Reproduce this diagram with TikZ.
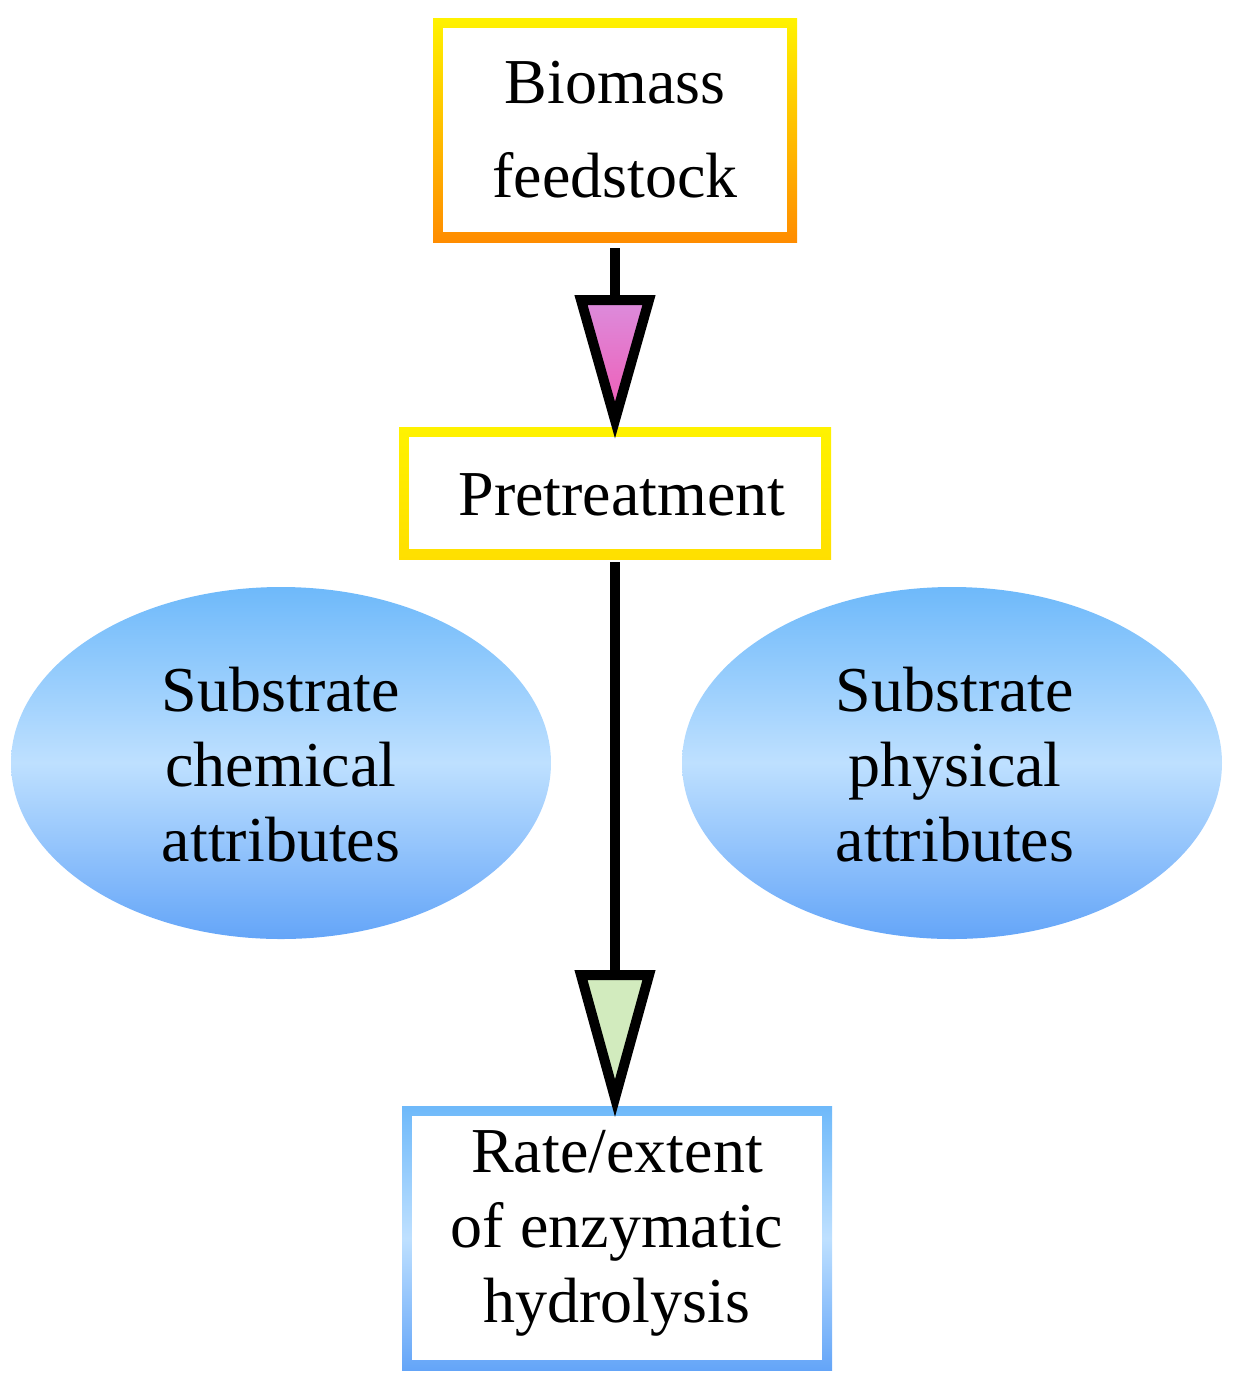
\documentclass[tikz,border=0pt]{standalone}
\usepackage{fontspec}
\setmainfont{Liberation Serif}
\definecolor{bTop}{RGB}{110,185,250}
\definecolor{bMid}{RGB}{190,224,255}
\definecolor{bBot}{RGB}{100,165,248}
\definecolor{pTop}{RGB}{220,140,220}
\definecolor{pBot}{RGB}{240,90,180}
\definecolor{gFill}{RGB}{210,235,190}
\begin{document}
\begin{tikzpicture}[x=0.5pt,y=-0.5pt,
  txt/.style={align=center,font=\fontsize{32}{37.5}\selectfont},
  tri/.style={draw=black,line width=5pt,line join=miter},
  blueshade/.style={top color=bTop,bottom color=bBot,middle color=bMid}]
\useasboundingbox (0,0) rectangle (1236,1389);
% Box 1
\shade[top color=yellow!90!orange,bottom color=orange!90!yellow] (433,18) rectangle (797,242);
\fill[white] (443,28) rectangle (787,232);
\node[txt,font=\fontsize{32}{47}\selectfont] (bio) at (615,130) {Biomass\\feedstock};
% Box 2
\shade[top color=yellow!90!orange,bottom color=yellow!75!orange] (399,427) rectangle (831,559);
\fill[white] (409,437) rectangle (821,549);
\node[txt] (pre) at (622,495) {Pretreatment};
% Box 3
\shade[blueshade] (402,1106) rectangle (832,1370);
\fill[white] (412,1116) rectangle (822,1360);
\node[txt] (rate) at (617,1233) {Rate/extent\\of enzymatic\\hydrolysis};
% Ellipses
\shade[blueshade] (281,763) ellipse [x radius=270,y radius=176];
\shade[blueshade] (952,763) ellipse [x radius=270,y radius=176];
\node[txt] (chem) at (281,765) {Substrate\\chemical\\attributes};
\node[txt] (phys) at (955,765) {Substrate\\physical\\attributes};
% Arrow 1
\coordinate (t1) at (615,300);
\coordinate (t1tip) at (615,420);
\draw[line width=5pt] (615,248) -- (t1);
\shade[top color=pTop,bottom color=pBot] (581,300) -- (649,300) -- (t1tip) -- cycle;
\draw[tri] (581,300) -- (649,300) -- (t1tip) -- cycle;
% Arrow 2
\coordinate (t2) at (615,975);
\coordinate (t2tip) at (615,1098);
\draw[line width=5pt] (615,562) -- (t2);
\fill[gFill] (581,975) -- (649,975) -- (t2tip) -- cycle;
\draw[tri] (581,975) -- (649,975) -- (t2tip) -- cycle;
\end{tikzpicture}
\end{document}
